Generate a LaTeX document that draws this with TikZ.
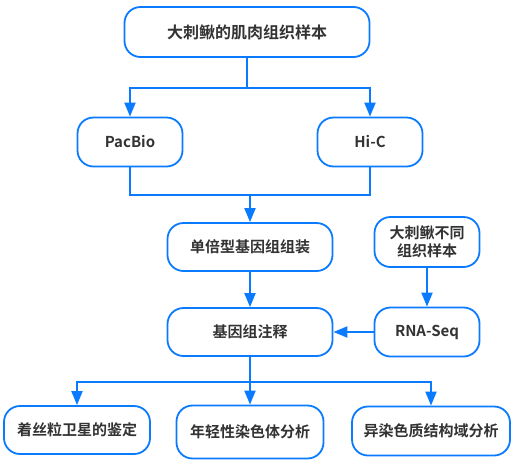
\documentclass[tikz,border=0pt]{standalone}
\usepackage{fontspec}
\setmainfont{Noto Sans CJK SC Bold}
\usepackage{tikz}
\usetikzlibrary{shapes,arrows.meta}
\definecolor{flowblue}{HTML}{0A7BFF}
\definecolor{flowtext}{HTML}{333333}
\tikzstyle{block} = [draw=flowblue, line width=1.8pt, fill=white, rectangle,
    rounded corners=16pt, inner sep=0pt, text=flowtext, font=\fontsize{15pt}{19pt}\selectfont,
    minimum height=48pt, minimum width=105pt]
\tikzstyle{link} = [draw=flowblue, line width=2pt]

\begin{document}
\begin{tikzpicture}[auto, node distance=2cm, >={Triangle[width=11pt,length=14pt]}]
    \useasboundingbox (0,0) rectangle (516pt,-472pt);
    \node [block, minimum width=165pt] (annot) at (250pt,-332pt) {基因组注释};
    \node [block, above of=annot, minimum width=165pt, node distance=85pt] (assembly) {单倍型基因组组装};
    \node [block, right of=annot, minimum height=49pt, node distance=177pt] (rnaseq) {RNA-Seq};
    \node [block, above of=rnaseq, align=center, minimum height=50pt, node distance=90pt,
        font=\fontsize{15pt}{18pt}\selectfont] (tissues) {大刺鳅不同\\组织样本};
    \draw [link,->] (tissues) -- (rnaseq);
    \draw [link,->] (rnaseq) -- (annot);
    \draw [link,->] (assembly) -- (annot);
    \node [block, above of=assembly, xshift=-120pt, minimum height=49pt, node distance=105pt] (pacbio) {PacBio};
    \node [block, right of=pacbio, minimum height=49pt, node distance=240pt] (hic) {Hi-C};
    \node [block, above of=assembly, xshift=-3pt, minimum width=245pt, minimum height=50pt,
        node distance=215pt, font=\fontsize{16pt}{19pt}\selectfont] (sample) {大刺鳅的肌肉组织样本};
    \draw [link] (sample.south) -- ++(0,-30pt) coordinate (split);
    \draw [link,->] (split) -| (pacbio.north);
    \draw [link,->] (split) -| (hic.north);
    \draw [link] (pacbio.south) -- ++(0,-28pt) coordinate (merge) -| (hic.south);
    \draw [link,->] (merge -| assembly.north) -- (assembly.north);
    \node [block, below of=annot, minimum width=147pt, minimum height=53pt, node distance=100pt] (sexchr) {年轻性染色体分析};
    \node [block, left of=sexchr, yshift=2pt, minimum width=146pt, node distance=173pt] (satellite) {着丝粒卫星的鉴定};
    \node [block, right of=sexchr, yshift=1pt, minimum width=158pt, minimum height=49pt, node distance=181pt] (hetero) {异染色质结构域分析};
    \draw [link] (annot.south) -- ++(0,-25pt) coordinate (fork);
    \draw [link,->] (fork) -| (satellite.north);
    \draw [link,->] (fork) -- (sexchr.north);
    \draw [link,->] (fork) -| (hetero.north);
\end{tikzpicture}
\end{document}
